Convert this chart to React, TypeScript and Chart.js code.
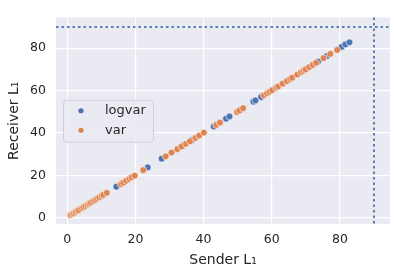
import React, { useEffect, useRef } from "react";
import { Chart, registerables } from "chart.js";

Chart.register(...registerables);

const seriesNames = ["logvar", "var"];
const seriesColors = ["#4c72b0", "#dd8452"];

const logvarSender = [8.5, 14.4, 23.6, 27.7, 33.9, 36.5, 43.0, 46.6, 47.6, 51.0, 54.6, 55.2, 56.9, 61.0, 65.0, 70.5, 73.6, 76.2, 80.5, 81.6, 82.8];
const logvarReceiver = [8.8, 14.7, 23.8, 27.9, 34.0, 36.6, 43.1, 46.8, 47.8, 51.1, 54.8, 55.4, 57.0, 61.1, 65.1, 70.6, 73.7, 76.3, 80.6, 81.8, 82.8];

const varSender = [0.9, 1.4, 1.9, 2.4, 2.9, 3.4, 4.2, 4.7, 5.3, 5.9, 6.4, 6.9, 7.6, 8.2, 8.8, 9.4, 10.1, 10.6, 11.6,
  15.7, 16.4, 17.3, 18.2, 18.9, 19.8, 22.3,
  28.9, 30.6, 32.3, 33.5, 34.8, 36.0, 37.6, 38.7, 40.1,
  43.7, 44.8, 49.8, 50.5, 51.6,
  57.7, 58.6, 59.3, 60.1, 61.3, 61.9, 63.2, 64.4, 65.4, 66.0, 67.5, 68.6, 69.3, 69.9, 71.0, 72.0, 73.0, 75.2, 77.2, 79.2];
const varReceiver = [1.3, 1.8, 2.2, 2.8, 3.3, 3.7, 4.5, 5.0, 5.6, 6.2, 6.7, 7.2, 7.9, 8.4, 9.1, 9.7, 10.3, 10.9, 11.8,
  15.9, 16.6, 17.5, 18.4, 19.2, 19.9, 22.5,
  29.0, 30.8, 32.4, 33.6, 34.9, 36.1, 37.7, 38.8, 40.2,
  43.8, 44.9, 49.9, 50.6, 51.7,
  57.8, 58.7, 59.4, 60.2, 61.4, 62.0, 63.3, 64.5, 65.5, 66.1, 67.6, 68.7, 69.4, 70.0, 71.1, 72.1, 73.1, 75.3, 77.3, 79.2];

const xTicks = [0, 20, 40, 60, 80];
const yTicks = [0, 20, 40, 60, 80];
const refLineX = 90;
const refLineY = 90;

const FONT = "'DejaVu Sans', sans-serif";
const TEXT = "#262626";

const bgPlugin = {
  id: "bgPlugin",
  beforeDraw(chart: any) {
    const { ctx, chartArea: a } = chart;
    ctx.save();
    ctx.fillStyle = "#ffffff";
    ctx.fillRect(0, 0, chart.width, chart.height);
    ctx.fillStyle = "#eaeaf2";
    ctx.fillRect(a.left, a.top, a.right - a.left, a.bottom - a.top);
    ctx.restore();
  },
};

const refLinesPlugin = {
  id: "refLines",
  beforeDatasetsDraw(chart: any) {
    const { ctx, chartArea: a, scales } = chart;
    const px = scales.x.getPixelForValue(refLineX);
    const py = scales.y.getPixelForValue(refLineY);
    ctx.save();
    ctx.strokeStyle = "rgba(76,114,176,0.9)";
    ctx.lineWidth = 2;
    ctx.setLineDash([2.5, 3]);
    ctx.beginPath();
    ctx.moveTo(px, a.top);
    ctx.lineTo(px, a.bottom);
    ctx.stroke();
    ctx.beginPath();
    ctx.moveTo(a.left, py);
    ctx.lineTo(a.right, py);
    ctx.stroke();
    ctx.restore();
  },
};

const legendPlugin = {
  id: "innerLegend",
  afterDatasetsDraw(chart: any) {
    const { ctx, chartArea: a } = chart;
    const w = 90;
    const h = 42;
    const left = a.left + 7;
    const top = (a.top + a.bottom) / 2 - h / 2;
    ctx.save();
    ctx.fillStyle = "rgba(234,234,242,0.85)";
    ctx.strokeStyle = "#cfcfd6";
    ctx.lineWidth = 1;
    ctx.beginPath();
    (ctx as any).roundRect(left + 0.5, top + 0.5, w, h, 3);
    ctx.fill();
    ctx.stroke();
    ctx.font = `13px ${FONT}`;
    ctx.textBaseline = "middle";
    seriesNames.forEach((name, i) => {
      const cy = top + 11 + i * 19.5;
      ctx.fillStyle = seriesColors[i];
      ctx.beginPath();
      ctx.arc(left + 18, cy, 2.6, 0, Math.PI * 2);
      ctx.fill();
      ctx.fillStyle = TEXT;
      ctx.fillText(name, left + 42, cy);
    });
    ctx.restore();
  },
};

function toPoints(xs: number[], ys: number[]) {
  return xs.map((x, i) => ({ x, y: ys[i] }));
}

export default function App() {
  const ref = useRef<HTMLCanvasElement | null>(null);
  useEffect(() => {
    document.body.style.margin = "0";
    const canvas = ref.current!;
    const chart = new Chart(canvas, {
      type: "scatter",
      data: {
        datasets: [
          {
            label: seriesNames[0],
            data: toPoints(logvarSender, logvarReceiver),
            backgroundColor: seriesColors[0],
            borderColor: "#ffffff",
            borderWidth: 0.6,
            pointRadius: 3.4,
            order: 1,
          },
          {
            label: seriesNames[1],
            data: toPoints(varSender, varReceiver),
            backgroundColor: seriesColors[1],
            borderColor: "#ffffff",
            borderWidth: 0.6,
            pointRadius: 3.4,
            order: 0,
          },
        ],
      },
      options: {
        responsive: false,
        animation: false,
        devicePixelRatio: 1,
        layout: { padding: { top: 7, right: 6, left: 0, bottom: 0 } },
        plugins: { legend: { display: false }, tooltip: { enabled: false } },
        scales: {
          x: {
            type: "linear",
            min: -3.3,
            max: 94.7,
            border: { display: false },
            grid: { color: "#ffffff", lineWidth: 1.2, drawTicks: false },
            ticks: { color: TEXT, font: { family: FONT, size: 12.5 }, padding: 8 },
            afterBuildTicks: (s: any) => { s.ticks = xTicks.map((v) => ({ value: v })); },
            afterFit: (s: any) => { s.height = 51; },
            title: { display: true, text: "Sender L₁", color: TEXT, font: { family: FONT, size: 14 }, padding: { top: 0, bottom: 6 } },
          },
          y: {
            type: "linear",
            min: -2.9,
            max: 94.5,
            border: { display: false },
            grid: { color: "#ffffff", lineWidth: 1.2, drawTicks: false },
            ticks: { color: TEXT, font: { family: FONT, size: 12.5 }, padding: 10 },
            afterBuildTicks: (s: any) => { s.ticks = yTicks.map((v) => ({ value: v })); },
            afterFit: (s: any) => { s.width = 56; },
            title: { display: true, text: "Receiver L₁", color: TEXT, font: { family: FONT, size: 14 }, padding: { top: 6, bottom: 0 } },
          },
        },
      },
      plugins: [bgPlugin, refLinesPlugin, legendPlugin],
    } as any);
    return () => chart.destroy();
  }, []);
  return (
    <div style={{ width: 396, height: 275 }}>
      <canvas ref={ref} width={396} height={275} />
    </div>
  );
}
